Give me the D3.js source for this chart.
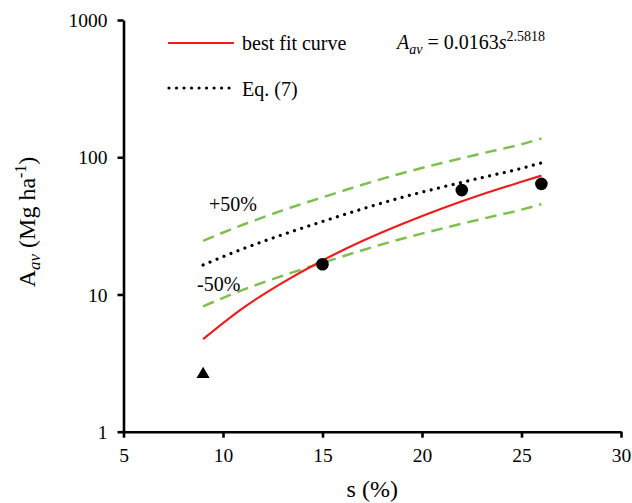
<!DOCTYPE html>
<html>
<head>
<meta charset="utf-8">
<script src="https://cdn.jsdelivr.net/npm/d3@7"></script>
<style>
  body { margin: 0; background: #fff; }
  svg text { font-family: 'Liberation Serif', 'Times New Roman', serif; fill: #000; }
</style>
</head>
<body>
<svg id="chart"></svg>
<script>
// values
const sCurve = [9, 11, 13, 15, 17, 19, 21, 23, 25, 26];
const bestFit = [4.73, 7.96, 12.2, 17.7, 24.5, 32.6, 42.3, 53.5, 66.2, 73.4];
const eq7 = [16.4, 21.5, 27.3, 34, 42, 51, 60.5, 71, 83, 91];
const plus50 = [24.6, 32.2, 41, 51, 63, 76.5, 90.8, 106.5, 124.5, 137];
const minus50 = [8.2, 10.8, 13.7, 17, 21, 25.5, 30.2, 35.5, 41.5, 45.5];

const obsS = [15, 22, 26];
const obsA = [16.6, 57.6, 64];
const triS = [9];
const triA = [2.62];

const xTicks = [5, 10, 15, 20, 25, 30];
const yTicks = [1, 10, 100, 1000];

const width = 632, height = 503;
const serif = "'Liberation Serif', 'Times New Roman', serif";

const svg = d3.select("#chart")
    .attr("width", width)
    .attr("height", height)
    .attr("font-family", serif);

const x = d3.scaleLinear().domain([5, 30]).range([123.5, 621]);
const y = d3.scaleLog().domain([1, 1000]).range([431.7, 20]);

// axes
const xAxis = svg.append("g")
    .attr("transform", `translate(0,${y(1)})`)
    .call(d3.axisBottom(x).tickValues(xTicks).tickSize(6).tickSizeOuter(0).tickPadding(10));

const yAxis = svg.append("g")
    .attr("transform", `translate(${x(5)},0)`)
    .call(d3.axisLeft(y).tickValues(yTicks).tickSize(6).tickSizeOuter(0).tickPadding(10)
        .tickFormat(d3.format("d")));

[xAxis, yAxis].forEach(g => {
    g.attr("font-family", serif).attr("font-size", 19.5);
    g.selectAll("path, line").attr("stroke", "#000").attr("stroke-width", 2.6);
    g.selectAll("text").attr("fill", "#000");
});
yAxis.selectAll("text").attr("dy", "0.34em");

// curves
const line = (vals) => d3.line()
    .x((d, i) => x(sCurve[i]))
    .y(d => y(d))
    .curve(d3.curveMonotoneX)(vals);

svg.append("path").attr("d", line(plus50))
    .attr("fill", "none").attr("stroke", "#7fbf4f").attr("stroke-width", 2.5)
    .attr("stroke-dasharray", "11.5 7");
svg.append("path").attr("d", line(minus50))
    .attr("fill", "none").attr("stroke", "#7fbf4f").attr("stroke-width", 2.5)
    .attr("stroke-dasharray", "11.5 7");
svg.append("path").attr("d", line(eq7))
    .attr("fill", "none").attr("stroke", "#000").attr("stroke-width", 3.2)
    .attr("stroke-linecap", "round")
    .attr("stroke-dasharray", "0.01 7.5");
svg.append("path").attr("d", line(bestFit))
    .attr("fill", "none").attr("stroke", "#ee1c1c").attr("stroke-width", 2.2);

// observed points
svg.selectAll(".obs")
    .data(obsS)
    .enter()
    .append("circle")
    .attr("class", "obs")
    .attr("cx", d => x(d))
    .attr("cy", (d, i) => y(obsA[i]))
    .attr("r", 6.3)
    .attr("fill", "#000");

svg.selectAll(".tri")
    .data(triS)
    .enter()
    .append("path")
    .attr("class", "tri")
    .attr("transform", (d, i) => `translate(${x(d)},${y(triA[i])})`)
    .attr("d", d3.symbol().type(d3.symbolTriangle).size(75))
    .attr("fill", "#000");

// legend
svg.append("line")
    .attr("x1", 168).attr("x2", 234).attr("y1", 43).attr("y2", 43)
    .attr("stroke", "#ee1c1c").attr("stroke-width", 2.2);
svg.append("text").attr("x", 242).attr("y", 50)
    .attr("font-size", 20).text("best fit curve");

svg.append("line")
    .attr("x1", 169).attr("x2", 233).attr("y1", 88).attr("y2", 88)
    .attr("stroke", "#000").attr("stroke-width", 3.2)
    .attr("stroke-linecap", "round")
    .attr("stroke-dasharray", "0.01 7.5");
svg.append("text").attr("x", 242).attr("y", 96)
    .attr("font-size", 20).text("Eq. (7)");

// equation
const eq = svg.append("text").attr("x", 397).attr("y", 49).attr("font-size", 20);
eq.append("tspan").attr("font-style", "italic").text("A");
eq.append("tspan").attr("font-style", "italic").attr("dy", 5).attr("font-size", 14).text("av");
eq.append("tspan").attr("dy", -5).text(" = 0.0163");
eq.append("tspan").attr("font-style", "italic").text("s");
eq.append("tspan").attr("dy", -8).attr("font-size", 14).text("2.5818");

// band labels
svg.append("text").attr("x", 209).attr("y", 211).attr("font-size", 20).text("+50%");
svg.append("text").attr("x", 197).attr("y", 291).attr("font-size", 20).text("-50%");

// axis titles
svg.append("text")
    .attr("x", (x(5) + x(30)) / 2).attr("y", 497)
    .attr("text-anchor", "middle")
    .attr("font-size", 24)
    .text("s (%)");

const yt = svg.append("text")
    .attr("transform", "translate(35,222) rotate(-90)")
    .attr("text-anchor", "middle")
    .attr("font-size", 24);
yt.append("tspan").text("A");
yt.append("tspan").attr("font-style", "italic").attr("dy", 5).attr("font-size", 17).text("av");
yt.append("tspan").attr("dy", -5).text(" (Mg ha");
yt.append("tspan").attr("dy", -9).attr("font-size", 16).text("-1");
yt.append("tspan").attr("dy", 9).text(")");
</script>
</body>
</html>
